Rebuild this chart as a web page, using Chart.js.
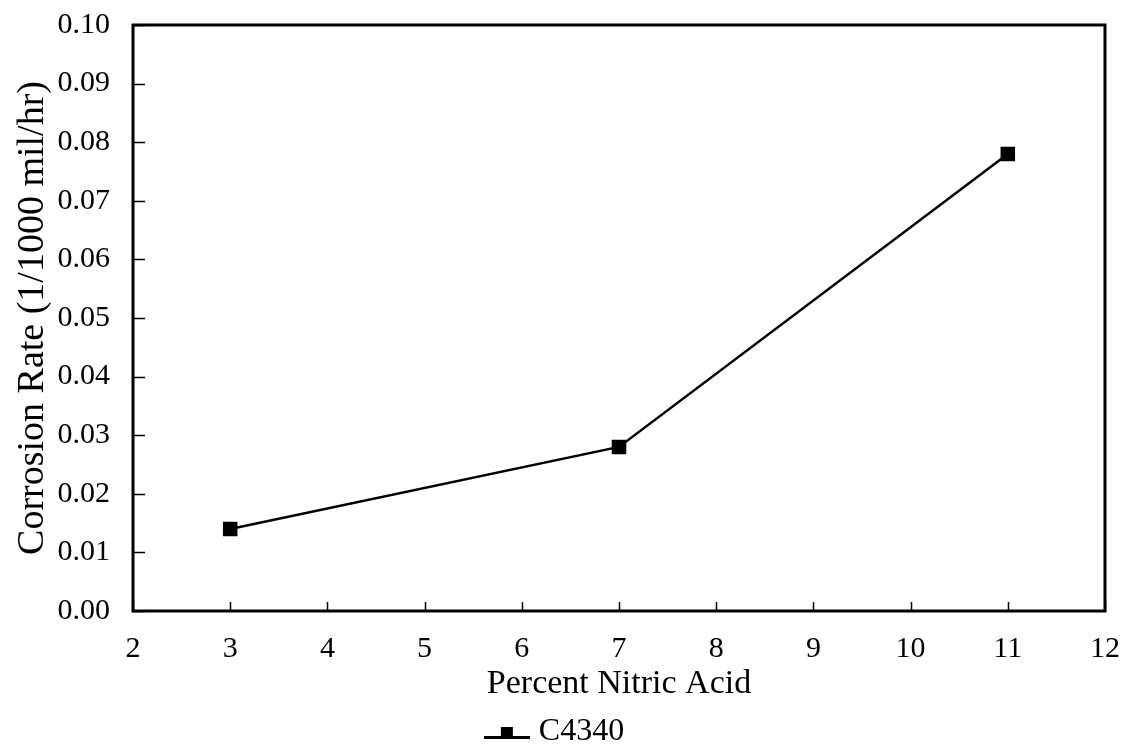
<!DOCTYPE html>
<html>
<head>
<meta charset="utf-8">
<script src="https://cdn.jsdelivr.net/npm/chart.js@4"></script>
<style>
  html, body { margin: 0; padding: 0; background: #fff; }
  #wrap { width: 1125px; height: 752px; }
</style>
</head>
<body>
<div id="wrap"><canvas id="lineChart" width="1125" height="752"></canvas></div>
<script>
const nitricPercent = [3, 7, 11];
const corrosionRate = [0.014, 0.028, 0.078];
const seriesName = 'C4340';
const xTickValues = [2, 3, 4, 5, 6, 7, 8, 9, 10, 11, 12];
const yTickValues = [0, 0.01, 0.02, 0.03, 0.04, 0.05, 0.06, 0.07, 0.08, 0.09, 0.10];

const serif = 'Liberation Serif, Times New Roman, serif';

// small picture for the legend: line with square marker on it
function legendSymbol() {
  const c = document.createElement('canvas');
  c.width = 46; c.height = 16;
  const g = c.getContext('2d');
  g.fillStyle = '#000';
  g.fillRect(0, 12, 46, 3);
  g.fillRect(17, 3, 12, 12);
  return c;
}

// frame round the plot and short inward tick marks
const frameTicks = {
  id: 'frameTicks',
  afterDatasetsDraw(chart) {
    const {ctx, chartArea: a, scales: {x, y}} = chart;
    ctx.save();
    ctx.strokeStyle = '#000';
    ctx.lineWidth = 1.5;
    ctx.beginPath();
    xTickValues.forEach(v => {
      const px = Math.round(x.getPixelForValue(v)) + 0.5;
      ctx.moveTo(px, a.bottom);
      ctx.lineTo(px, a.bottom - 9);
    });
    yTickValues.forEach(v => {
      const py = Math.round(y.getPixelForValue(v)) + 0.5;
      ctx.moveTo(a.left, py);
      ctx.lineTo(a.left + 12, py);
    });
    ctx.stroke();
    ctx.lineWidth = 3;
    ctx.strokeRect(a.left, a.top, a.right - a.left, a.bottom - a.top);
    ctx.restore();
  }
};

const ctx = document.getElementById('lineChart').getContext('2d');
const chart = new Chart(ctx, {
  type: 'line',
  data: {
    datasets: [{
      label: seriesName,
      data: nitricPercent.map((v, i) => ({x: v, y: corrosionRate[i]})),
      borderColor: '#000',
      backgroundColor: '#000',
      borderWidth: 2.5,
      pointStyle: 'rect',
      pointRadius: 8.5,
      pointHoverRadius: 8.5,
      fill: false,
      tension: 0
    }]
  },
  options: {
    responsive: false,
    animation: false,
    layout: { padding: { left: 10, right: 20, top: 25, bottom: -6 } },
    plugins: {
      tooltip: { enabled: false },
      legend: {
        position: 'bottom',
        labels: {
          color: '#000',
          font: { family: serif, size: 32 },
          usePointStyle: true,
          padding: 0,
          generateLabels: ch => ch.data.datasets.map((ds, i) => ({
            text: ds.label,
            pointStyle: legendSymbol(),
            fillStyle: '#000',
            strokeStyle: '#000',
            fontColor: '#000',
            datasetIndex: i
          }))
        }
      }
    },
    scales: {
      x: {
        type: 'linear',
        min: 2, max: 12,
        afterBuildTicks: s => { s.ticks = xTickValues.map(v => ({value: v})); },
        afterFit: s => { s.height = 105; s.paddingLeft = 0; s.paddingRight = 0; },
        grid: { display: false, drawTicks: false },
        border: { display: false },
        ticks: { color: '#000', font: { family: serif, size: 30 }, padding: 20, maxRotation: 0 },
        title: { display: true, text: 'Percent Nitric Acid', color: '#000', font: { family: serif, size: 34 }, padding: { top: 0, bottom: 12 } }
      },
      y: {
        min: 0, max: 0.1,
        afterBuildTicks: s => { s.ticks = yTickValues.map(v => ({value: v})); },
        afterFit: s => { s.width = 123; s.paddingTop = 0; s.paddingBottom = 0; },
        grid: { display: false, drawTicks: false },
        border: { display: false },
        ticks: { color: '#000', font: { family: serif, size: 30 }, padding: 23, callback: v => v.toFixed(2) },
        title: { display: true, text: 'Corrosion Rate (1/1000 mil/hr)', color: '#000', font: { family: serif, size: 38 }, padding: { top: 0, bottom: 0 } }
      }
    }
  },
  plugins: [frameTicks]
});
</script>
</body>
</html>
